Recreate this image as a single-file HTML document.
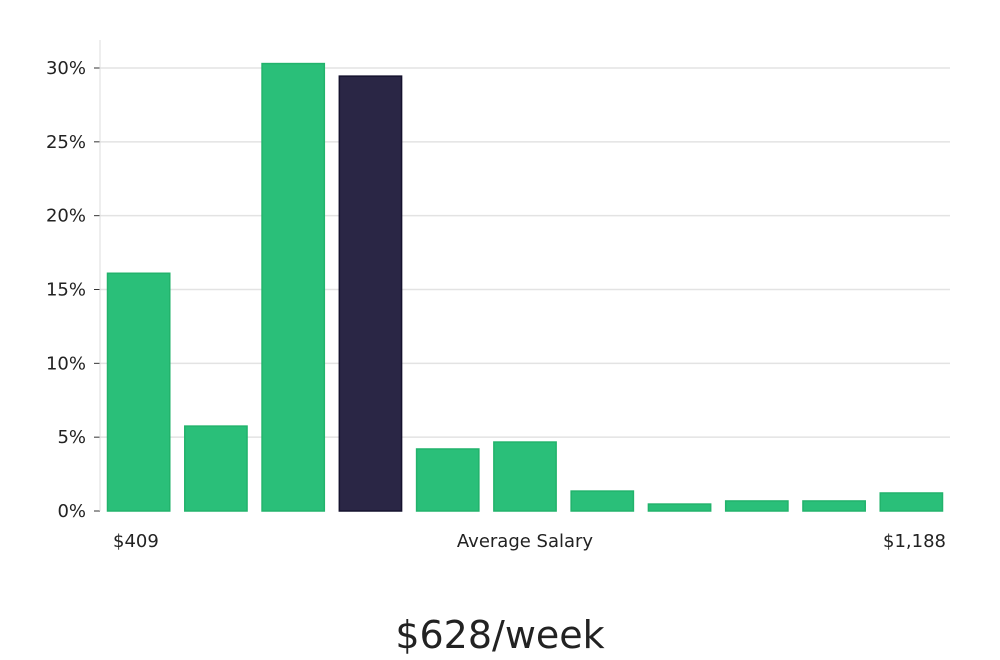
<!DOCTYPE html>
<html><head><meta charset="utf-8"><style>
html,body{margin:0;padding:0;background:#fff;width:1000px;height:660px;overflow:hidden}
text{font-family:"DejaVu Sans","Liberation Sans",sans-serif}
</style></head><body>
<svg id="chart" width="1000" height="660" viewBox="0 0 1000 660" xmlns="http://www.w3.org/2000/svg">
<g id="grid"></g>
<line x1="100" y1="40" x2="100" y2="511" stroke="#dddddd" stroke-width="1"/>
<g id="bars"></g>
<g id="yticks"></g>
<text x="113" y="547" font-size="18" fill="#222">$409</text>
<text x="525" y="547" font-size="18" fill="#222" text-anchor="middle">Average Salary</text>
<text x="946" y="547" font-size="18" fill="#222" text-anchor="end">$1,188</text>
<text x="500" y="648" font-size="38" fill="#222" text-anchor="middle" font-family="Liberation Sans, sans-serif">$628/week</text>
</svg>
<script>
const categories = ["b1","b2","b3","b4","b5","b6","b7","b8","b9","b10","b11"];
const values = [16.1, 5.75, 30.3, 29.45, 4.2, 4.67, 1.35, 0.47, 0.68, 0.68, 1.22];
const highlight = [false,false,false,true,false,false,false,false,false,false,false];
const yTicks = [0,5,10,15,20,25,30];
const yTickLabels = ["0%","5%","10%","15%","20%","25%","30%"];
const NS="http://www.w3.org/2000/svg";
const x0=100,x1=950,yZero=511,yTop=68,yMax=30;
const y=v=>yZero-(v/yMax)*(yZero-yTop);
const band=(x1-x0)/categories.length;
const xb=i=>x0+i*band;
const grid=document.getElementById('grid'),ty=document.getElementById('yticks'),bars=document.getElementById('bars');
yTicks.forEach((t,i)=>{
  if(t>0){const l=document.createElementNS(NS,'line');
  
  
  l.setAttribute('x1',x0);l.setAttribute('x2',x1);l.setAttribute('y1',y(t));l.setAttribute('y2',y(t));
  l.setAttribute('stroke','#e3e3e3');l.setAttribute('stroke-width','1.5');grid.appendChild(l);}
  const tk=document.createElementNS(NS,'line');
  
  
  tk.setAttribute('x1',x0-6);tk.setAttribute('x2',x0);tk.setAttribute('y1',y(t));tk.setAttribute('y2',y(t));
  tk.setAttribute('stroke','#333');grid.appendChild(tk);
  const tx=document.createElementNS(NS,'text');
  
  
  tx.setAttribute('x',x0-14);tx.setAttribute('y',y(t)+6);tx.setAttribute('text-anchor','end');
  tx.setAttribute('font-size','18');tx.setAttribute('fill','#222');tx.textContent=yTickLabels[i];ty.appendChild(tx);
});
values.forEach((v,i)=>{
  const r=document.createElementNS(NS,'rect');
  
  
  r.setAttribute('x',xb(i)+7.5);r.setAttribute('width',band-15);
  r.setAttribute('y',y(v));r.setAttribute('height',yZero-y(v));
  r.setAttribute('fill',highlight[i]?'#2a2645':'#2abf79');
  r.setAttribute('stroke',highlight[i]?'#15122e':'#22b36c');r.setAttribute('stroke-width','1.5');
  bars.appendChild(r);
});
</script>
</body></html>
